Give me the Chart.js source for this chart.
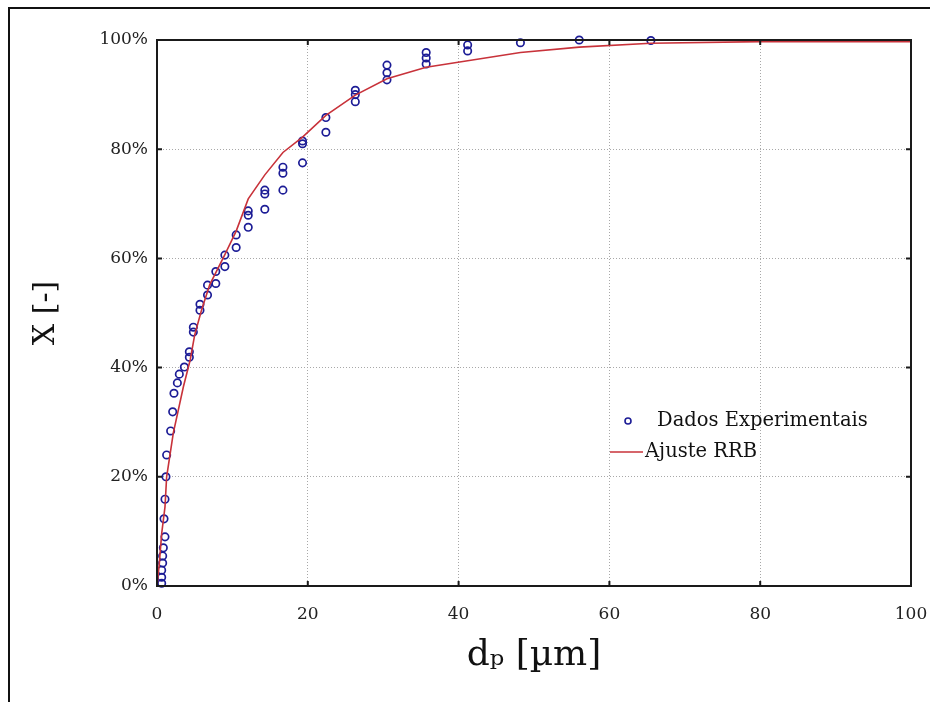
<!DOCTYPE html>
<html>
<head>
<meta charset="utf-8">
<script src="https://cdn.jsdelivr.net/npm/chart.js@4.4.1/dist/chart.umd.min.js"></script>
<style>
html,body{margin:0;padding:0;background:#ffffff;}
#wrap{position:relative;width:930px;height:702px;background:#ffffff;}
canvas{display:block;}
</style>
</head>
<body>
<div id="wrap"><canvas id="c" width="930" height="702"></canvas></div>
<script>
// ---- data ----
const expSize = [0.62,0.62,0.62,0.75,0.75,0.84,1.06,0.93,1.06,1.19,1.28,1.81,2.08,2.25,2.7,2.96,3.63,4.29,4.29,4.82,4.82,5.7,5.7,6.7,6.7,7.8,7.8,9.0,9.0,10.5,10.5,12.1,12.1,12.1,14.3,14.3,14.3,16.7,16.7,16.7,19.3,19.3,19.3,22.4,22.4,26.3,26.3,26.3,30.5,30.5,30.5,35.7,35.7,35.7,41.2,41.2,48.2,56.0,65.5];
const expFrac = [0.5,1.6,2.9,4.2,5.5,7.0,9.0,12.3,15.9,20.0,24.0,28.4,31.9,35.3,37.2,38.8,40.1,41.9,42.9,46.5,47.4,50.5,51.6,53.3,55.1,55.4,57.6,58.5,60.6,62.0,64.3,65.7,67.9,68.7,69.0,71.8,72.5,72.5,75.6,76.7,77.5,81.0,81.5,83.1,85.8,88.7,90.0,90.8,92.7,94.0,95.4,95.6,96.7,97.7,98.0,99.1,99.5,100.0,99.9];
const fitSize = [0,0.3,0.62,1.06,1.28,2.16,3.5,4.4,5.0,5.9,7.0,9.0,10.5,12.1,14.3,16.7,19.3,22.4,26.3,30.5,35.7,41.2,48.2,56.0,65.5,80,100];
const fitFrac = [0,4,9.6,14.5,20,28,36.5,41.4,46,50.5,55.2,60.7,65,70.9,75.3,79.4,82.2,86.2,89.9,92.9,95.0,96.2,97.7,98.7,99.4,99.7,99.7];
const xTickValues = [0,20,40,60,80,100];
const yTickValues = [0,20,40,60,80,100];
const seriesNames = ['Dados Experimentais','Ajuste RRB'];
const xTitle = 'd\u209A [\u00B5m]';
const yTitle = 'X [-]';

// ---- styles ----
const markerColor = '#1c1c96';
const lineColor = '#c8323a';
const serif = "'DejaVu Serif', serif";

const expPoints = expSize.map((d, i) => ({x: d, y: expFrac[i]}));
const fitPoints = fitSize.map((d, i) => ({x: d, y: fitFrac[i]}));

const framePlugin = {
  id: 'frame',
  afterDraw(chart) {
    const ctx = chart.ctx;
    const a = chart.chartArea;
    const xs = chart.scales.x, ys = chart.scales.y;
    ctx.save();
    // outer picture border (left + top)
    ctx.strokeStyle = '#111';
    ctx.lineWidth = 2;
    ctx.beginPath();
    ctx.moveTo(9, 702); ctx.lineTo(9, 8); ctx.lineTo(930, 8);
    ctx.stroke();
    // plot frame
    ctx.strokeStyle = '#1a1a1a';
    ctx.lineWidth = 2;
    ctx.strokeRect(a.left, a.top, a.right - a.left, a.bottom - a.top);
    // inward ticks
    const tl = 5;
    ctx.beginPath();
    xs.ticks.forEach(t => {
      const px = xs.getPixelForValue(t.value);
      ctx.moveTo(px, a.bottom); ctx.lineTo(px, a.bottom - tl);
      ctx.moveTo(px, a.top); ctx.lineTo(px, a.top + tl);
    });
    ys.ticks.forEach(t => {
      const py = ys.getPixelForValue(t.value);
      ctx.moveTo(a.left, py); ctx.lineTo(a.left + tl, py);
      ctx.moveTo(a.right, py); ctx.lineTo(a.right - tl, py);
    });
    ctx.stroke();
    // legend
    const ds = chart.data.datasets;
    ctx.font = "19.5px " + serif;
    ctx.fillStyle = '#111';
    ctx.textBaseline = 'middle';
    ctx.textAlign = 'left';
    ctx.strokeStyle = ds[0].pointBorderColor;
    ctx.lineWidth = 1.6;
    ctx.beginPath();
    ctx.arc(628, 421, 3, 0, Math.PI * 2);
    ctx.stroke();
    ctx.fillText(ds[0].label, 657, 421);
    ctx.strokeStyle = ds[1].borderColor;
    ctx.lineWidth = 1.5;
    ctx.beginPath();
    ctx.moveTo(610, 452); ctx.lineTo(643, 452);
    ctx.stroke();
    ctx.fillText(ds[1].label, 645, 452);
    ctx.restore();
  }
};

new Chart(document.getElementById('c'), {
  type: 'scatter',
  data: {
    datasets: [
      {
        label: seriesNames[0],
        data: expPoints,
        showLine: false,
        pointStyle: 'circle',
        pointRadius: 3.7,
        pointBorderWidth: 1.7,
        pointBorderColor: markerColor,
        pointBackgroundColor: 'rgba(0,0,0,0)',
        clip: false,
        order: 2
      },
      {
        label: seriesNames[1],
        data: fitPoints,
        showLine: true,
        borderColor: lineColor,
        borderWidth: 1.6,
        pointRadius: 0,
        fill: false,
        tension: 0,
        clip: false,
        order: 1
      }
    ]
  },
  options: {
    responsive: false,
    animation: false,
    devicePixelRatio: 1,
    layout: { padding: { top: 40, right: 19, left: 0, bottom: 0 } },
    plugins: { legend: { display: false }, tooltip: { enabled: false } },
    scales: {
      x: {
        type: 'linear',
        position: 'bottom',
        min: 0, max: 100,
        afterBuildTicks: s => { s.ticks = xTickValues.map(v => ({value: v})); },
        afterFit: s => { s.height = 116; s.paddingLeft = 0; s.paddingRight = 0; },
        ticks: { font: { family: serif, size: 17 }, color: '#222', padding: 18, maxRotation: 0, autoSkip: false },
        grid: { color: '#a8a8a8', lineWidth: 1, drawTicks: false },
        border: { display: false, dash: [1, 2] },
        title: { display: true, text: xTitle, color: '#111', font: { family: serif, size: 36 }, padding: { top: 0, bottom: 25 } }
      },
      y: {
        type: 'linear',
        position: 'left',
        min: 0, max: 100,
        afterBuildTicks: s => { s.ticks = yTickValues.map(v => ({value: v})); },
        afterFit: s => { s.width = 157; s.paddingTop = 0; s.paddingBottom = 0; },
        ticks: { font: { family: serif, size: 17 }, color: '#222', padding: 9, callback: v => v + '%' },
        grid: { color: '#a8a8a8', lineWidth: 1, drawTicks: false },
        border: { display: false, dash: [1, 2] },
        title: { display: true, text: yTitle, color: '#111', font: { family: serif, size: 30 }, padding: { top: 28, bottom: 0 } }
      }
    }
  },
  plugins: [framePlugin]
});
</script>
</body>
</html>
